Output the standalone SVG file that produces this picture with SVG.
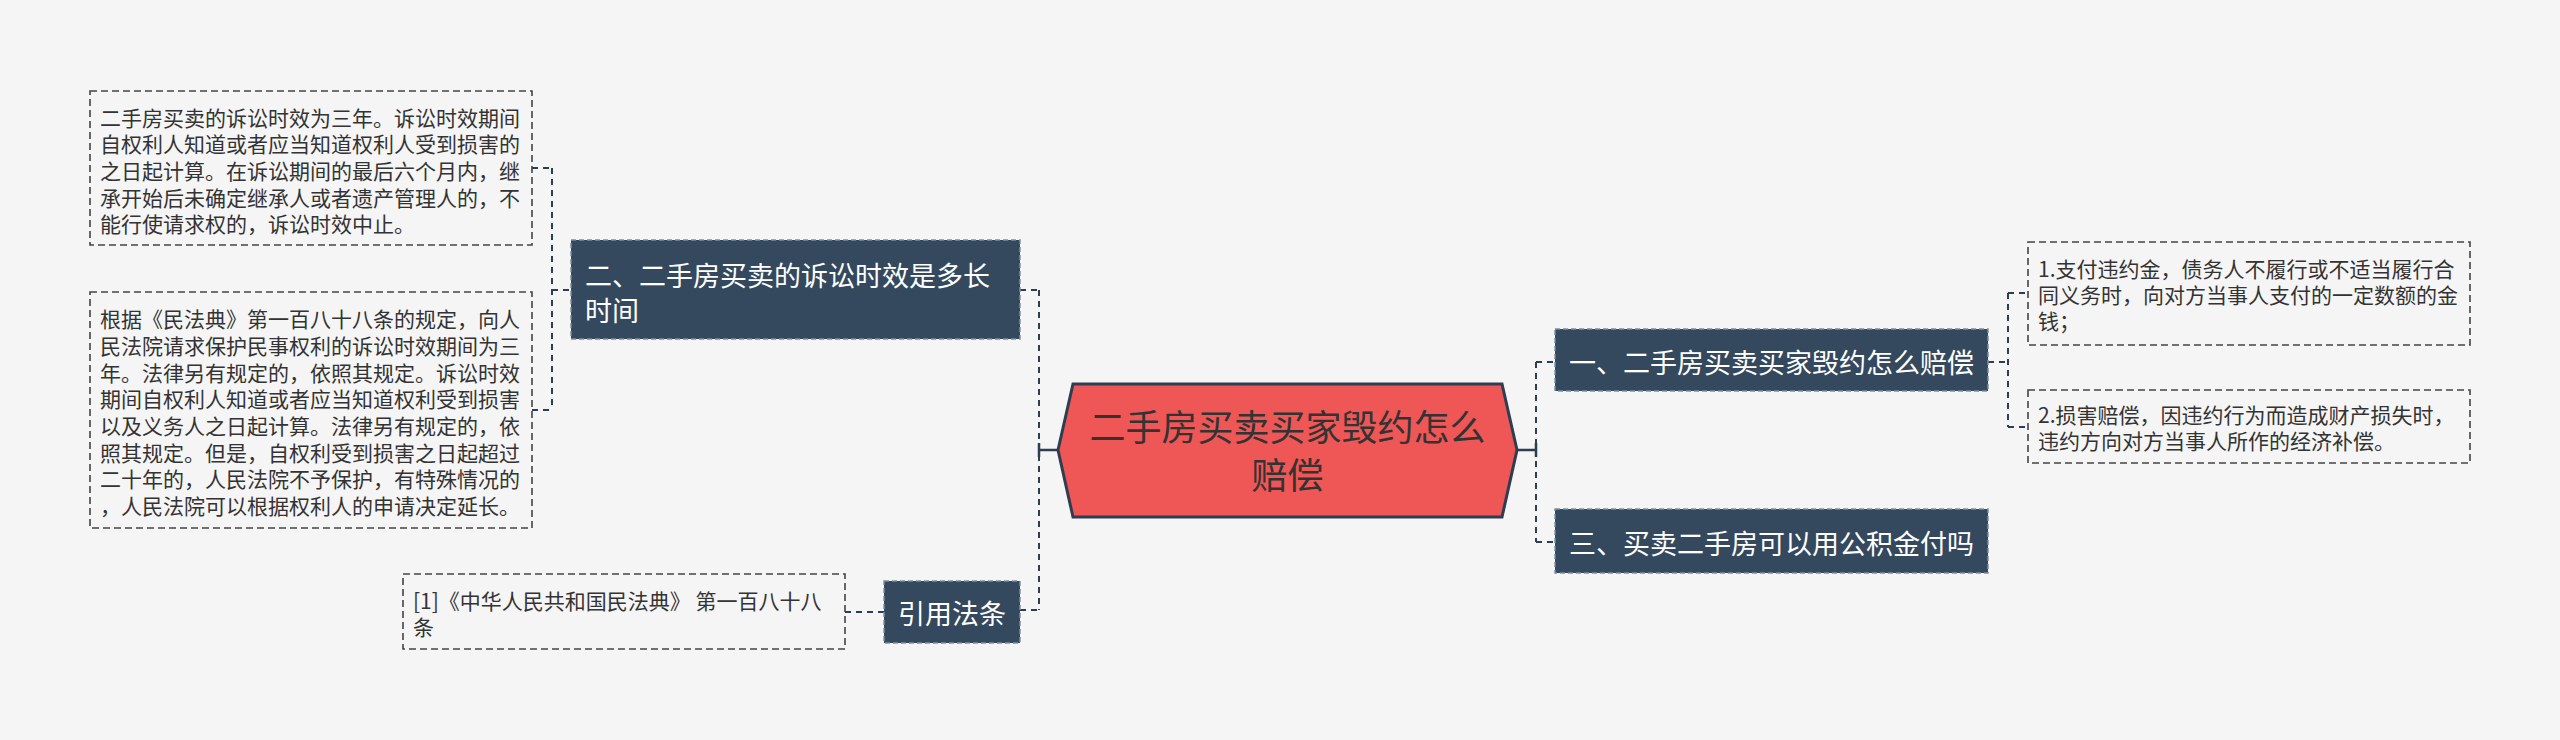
<svg xmlns="http://www.w3.org/2000/svg" width="2560" height="740" viewBox="0 0 2560 740">
<style>
text{font-family:"Noto Sans CJK SC","Noto Sans",sans-serif;dominant-baseline:central}
.leaf{fill:#f5f5f5;stroke:#444;stroke-width:1.6;stroke-dasharray:7 4}
.lt{font-size:21px;fill:#333}
.topic{fill:#34495e;stroke:#7d8ea0;stroke-width:1.5;stroke-dasharray:5 3}
.tt{font-size:27px;fill:#fff}
.conn{fill:none;stroke:#2c3e50;stroke-width:2;stroke-dasharray:6 5}
.solid{fill:none;stroke:#2c3e50;stroke-width:2.5}
</style>
<rect width="2560" height="740" fill="#f5f5f5"/>
<g id="connectors">
<path class="conn" d="M1039 290 V610"/>
<path class="conn" d="M1020 290 H1039"/>
<path class="conn" d="M1020 610 H1039"/>
<path class="solid" d="M1058 450 H1039 M1039 443 V457"/>
<path class="conn" d="M1536 362 V542"/>
<path class="solid" d="M1517 450 H1536 M1536 443 V457"/>
<path class="conn" d="M1536 362 H1555"/>
<path class="conn" d="M1536 542 H1555"/>
<path class="conn" d="M552 168 V410"/>
<path class="conn" d="M532 168 H552"/>
<path class="conn" d="M532 410 H552"/>
<path class="conn" d="M552 290 H571"/>
<path class="conn" d="M2008 293 V427"/>
<path class="conn" d="M1988 362 H2008"/>
<path class="conn" d="M2008 293 H2028"/>
<path class="conn" d="M2008 427 H2028"/>
<path class="conn" d="M845 612 H884"/>
</g>
<g id="root">
<polygon points="1058,450 1073,384 1502,384 1517,450 1502,517 1073,517" fill="#ef5656" stroke="#2c3e50" stroke-width="3"/>
<text x="1287.5" y="425" font-size="36" fill="#333" text-anchor="middle">二手房买卖买家毁约怎么</text>
<text x="1287.5" y="473" font-size="36" fill="#333" text-anchor="middle">赔偿</text>
</g>
<g id="topic2">
<rect class="topic" x="571" y="240" width="449" height="99"/>
<text class="tt" x="585" y="274">二、二手房买卖的诉讼时效是多长</text>
<text class="tt" x="585" y="309">时间</text>
</g>
<g id="topic-cite">
<rect class="topic" x="884" y="581" width="136" height="62"/>
<text class="tt" x="952" y="612" text-anchor="middle">引用法条</text>
</g>
<g id="topic1">
<rect class="topic" x="1555" y="329" width="433" height="62"/>
<text class="tt" x="1771.5" y="361" text-anchor="middle">一、二手房买卖买家毁约怎么赔偿</text>
</g>
<g id="topic3">
<rect class="topic" x="1555" y="509" width="433" height="64"/>
<text class="tt" x="1771.5" y="542" text-anchor="middle">三、买卖二手房可以用公积金付吗</text>
</g>
<g id="leaf-2a">
<rect class="leaf" x="90" y="91" width="442" height="154"/>
<text class="lt" x="100" y="116.7">二手房买卖的诉讼时效为三年。诉讼时效期间</text>
<text class="lt" x="100" y="143.3">自权利人知道或者应当知道权利人受到损害的</text>
<text class="lt" x="100" y="170">之日起计算。在诉讼期间的最后六个月内，继</text>
<text class="lt" x="100" y="196.7">承开始后未确定继承人或者遗产管理人的，不</text>
<text class="lt" x="100" y="223.3">能行使请求权的，诉讼时效中止。</text>
</g>
<g id="leaf-2b">
<rect class="leaf" x="90" y="292" width="442" height="236"/>
<text class="lt" x="100" y="318.3">根据《民法典》第一百八十八条的规定，向人</text>
<text class="lt" x="100" y="345">民法院请求保护民事权利的诉讼时效期间为三</text>
<text class="lt" x="100" y="371.7">年。法律另有规定的，依照其规定。诉讼时效</text>
<text class="lt" x="100" y="398.3">期间自权利人知道或者应当知道权利受到损害</text>
<text class="lt" x="100" y="425">以及义务人之日起计算。法律另有规定的，依</text>
<text class="lt" x="100" y="451.7">照其规定。但是，自权利受到损害之日起超过</text>
<text class="lt" x="100" y="478.3">二十年的，人民法院不予保护，有特殊情况的</text>
<text class="lt" x="100" y="505">，人民法院可以根据权利人的申请决定延长。</text>
</g>
<g id="leaf-cite">
<rect class="leaf" x="403" y="574" width="442" height="75"/>
<text class="lt" x="413" y="600">[1]《中华人民共和国民法典》 第一百八十八</text>
<text class="lt" x="413" y="626">条</text>
</g>
<g id="leaf-1a">
<rect class="leaf" x="2028" y="242" width="442" height="103"/>
<text class="lt" x="2038" y="268">1.支付违约金，债务人不履行或不适当履行合</text>
<text class="lt" x="2038" y="294">同义务时，向对方当事人支付的一定数额的金</text>
<text class="lt" x="2038" y="320">钱；</text>
</g>
<g id="leaf-1b">
<rect class="leaf" x="2028" y="390" width="442" height="73"/>
<text class="lt" x="2038" y="414">2.损害赔偿，因违约行为而造成财产损失时，</text>
<text class="lt" x="2038" y="440">违约方向对方当事人所作的经济补偿。</text>
</g>
</svg>
